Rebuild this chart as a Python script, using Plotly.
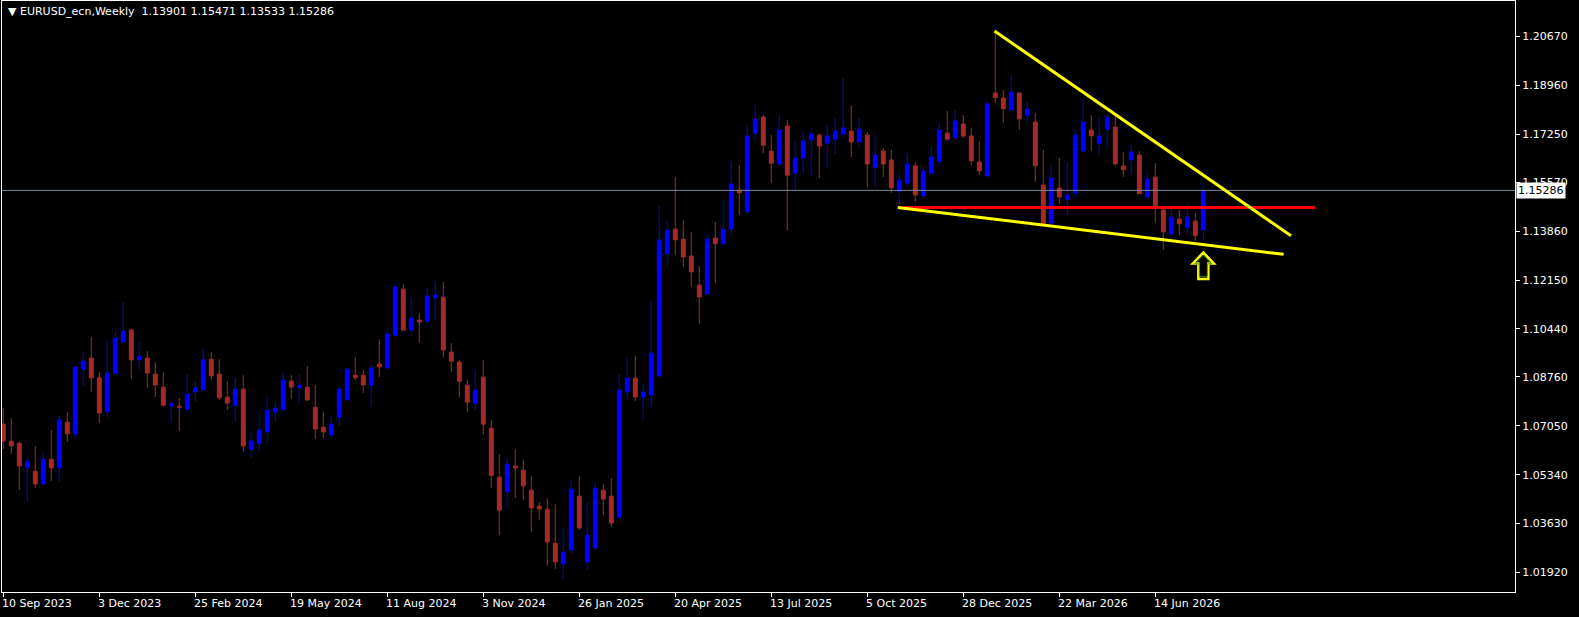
import plotly.graph_objects as go

# ---- weekly OHLC (EURUSD_ecn, Weekly) ----
opens = [1.0711, 1.0651, 1.0644, 1.0558, 1.0546, 1.0502, 1.0588, 1.0558, 1.0718, 1.0677,
         1.0903, 1.0942, 1.0873, 1.0754, 1.0889, 1.0999, 1.1040, 1.0936, 1.0942, 1.0886,
         1.0840, 1.0775, 1.0774, 1.0764, 1.0824, 1.0831, 1.0938, 1.0886, 1.0805, 1.0777,
         1.0833, 1.0623, 1.0644, 1.0684, 1.0754, 1.0761, 1.0861, 1.0838, 1.0840, 1.0770,
         1.0700, 1.0673, 1.0736, 1.0796, 1.0882, 1.0882, 1.0848, 1.0921, 1.0908, 1.1022,
         1.1183, 1.1040, 1.1075, 1.1071, 1.1153, 1.1155, 1.0963, 1.0928, 1.0847, 1.0784,
         1.0875, 1.0697, 1.0525, 1.0474, 1.0564, 1.0550, 1.0480, 1.0424, 1.0413, 1.0294,
         1.0222, 1.0271, 1.0459, 1.0229, 1.0278, 1.0480, 1.0459, 1.0386, 1.0824, 1.0872,
         1.0806, 1.0813, 1.0880, 1.1307, 1.1393, 1.1358, 1.1299, 1.1197, 1.1167, 1.1362,
         1.1342, 1.1394, 1.1530, 1.1454, 1.1729, 1.1785, 1.1666, 1.1621, 1.1754, 1.1589,
         1.1642, 1.1705, 1.1722, 1.1694, 1.1708, 1.1726, 1.1736, 1.1698, 1.1722, 1.1610,
         1.1666, 1.1635, 1.1526, 1.1554, 1.1614, 1.1510, 1.1589, 1.1631, 1.1729, 1.1713,
         1.1761, 1.1719, 1.1628, 1.1580, 1.1869, 1.1852, 1.1811, 1.1869, 1.1790, 1.1768,
         1.1547, 1.1415, 1.1537, 1.1498, 1.1520, 1.1667, 1.1740, 1.1694, 1.1743, 1.1750,
         1.1614, 1.1636, 1.1652, 1.1506, 1.1575, 1.1460, 1.1377, 1.1428, 1.1398, 1.1421,
         1.13901]
highs = [1.0767, 1.0732, 1.0650, 1.0595, 1.0634, 1.0613, 1.0690, 1.0742, 1.0753, 1.0910,
         1.0963, 1.1015, 1.0893, 1.1007, 1.1036, 1.1138, 1.1043, 1.0998, 1.0966, 1.0928,
         1.0893, 1.0790, 1.0802, 1.0886, 1.0860, 1.0977, 1.0963, 1.0938, 1.0861, 1.0872,
         1.0882, 1.0686, 1.0749, 1.0810, 1.0788, 1.0893, 1.0882, 1.0886, 1.0914, 1.0847,
         1.0756, 1.0742, 1.0840, 1.0907, 1.0945, 1.0900, 1.0924, 1.1008, 1.1047, 1.1201,
         1.1201, 1.1155, 1.1099, 1.1187, 1.1211, 1.1208, 1.0994, 1.0935, 1.0868, 1.0903,
         1.0935, 1.0725, 1.0606, 1.0592, 1.0623, 1.0588, 1.0529, 1.0438, 1.0452, 1.0431,
         1.0347, 1.0515, 1.0529, 1.0438, 1.0508, 1.0501, 1.0522, 1.0886, 1.0945, 1.0952,
         1.0854, 1.1145, 1.1474, 1.1425, 1.1575, 1.1425, 1.1383, 1.1264, 1.1376, 1.1418,
         1.1495, 1.1631, 1.1617, 1.1757, 1.1834, 1.1792, 1.1722, 1.1792, 1.1775, 1.1701,
         1.1733, 1.1747, 1.1729, 1.1761, 1.1782, 1.1922, 1.1824, 1.1782, 1.1733, 1.1729,
         1.1677, 1.1670, 1.1593, 1.1659, 1.1628, 1.1615, 1.1684, 1.1764, 1.1806, 1.1810,
         1.1792, 1.1747, 1.1701, 1.1838, 1.2086, 1.1880, 1.1932, 1.1873, 1.1838, 1.1799,
         1.1670, 1.1617, 1.1642, 1.1628, 1.1743, 1.1852, 1.1792, 1.1789, 1.1799, 1.1789,
         1.1663, 1.1687, 1.1666, 1.1593, 1.1624, 1.1467, 1.1463, 1.1460, 1.1484, 1.1449,
         1.15471]
lows = [1.0624, 1.0607, 1.0481, 1.0439, 1.0488, 1.0498, 1.0512, 1.0509, 1.0649, 1.0659,
        1.0845, 1.0824, 1.0715, 1.0736, 1.0887, 1.0999, 1.0869, 1.0903, 1.0838, 1.0806,
        1.0774, 1.0715, 1.0687, 1.0754, 1.0789, 1.0831, 1.0866, 1.0796, 1.0761, 1.0719,
        1.0614, 1.0593, 1.0616, 1.0642, 1.0719, 1.0761, 1.0799, 1.0782, 1.0792, 1.0659,
        1.0663, 1.0659, 1.0705, 1.0796, 1.0866, 1.0820, 1.0771, 1.0876, 1.0904, 1.1015,
        1.1040, 1.1019, 1.0998, 1.1064, 1.1078, 1.0945, 1.0893, 1.0805, 1.0753, 1.0760,
        1.0676, 1.0487, 1.0322, 1.0418, 1.0453, 1.0446, 1.0334, 1.0376, 1.0215, 1.0205,
        1.0166, 1.0257, 1.0341, 1.0201, 1.0271, 1.0393, 1.0351, 1.0379, 1.0799, 1.0792,
        1.0725, 1.0771, 1.0873, 1.1261, 1.1303, 1.1261, 1.1191, 1.1062, 1.1167, 1.1205,
        1.1338, 1.1370, 1.1443, 1.1450, 1.1705, 1.1659, 1.1554, 1.1614, 1.1390, 1.1526,
        1.1589, 1.1579, 1.1572, 1.1607, 1.1656, 1.1715, 1.1645, 1.1680, 1.1540, 1.1540,
        1.1575, 1.1520, 1.1471, 1.1541, 1.1489, 1.1499, 1.1589, 1.1615, 1.1702, 1.1706,
        1.1712, 1.1618, 1.1583, 1.1577, 1.1835, 1.1765, 1.1811, 1.1741, 1.1765, 1.1559,
        1.1412, 1.1412, 1.1482, 1.1440, 1.1503, 1.1660, 1.1667, 1.1653, 1.1675, 1.1615,
        1.1576, 1.1583, 1.1517, 1.1499, 1.1415, 1.1321, 1.1356, 1.1373, 1.1373, 1.1352,
        1.13533]
closes = [1.0652, 1.0635, 1.0565, 1.0581, 1.0502, 1.0588, 1.0558, 1.0726, 1.0677, 1.0910,
          1.0931, 1.0873, 1.0750, 1.0889, 1.1012, 1.1036, 1.0936, 1.0949, 1.0890, 1.0848,
          1.0777, 1.0782, 1.0770, 1.0816, 1.0838, 1.0936, 1.0880, 1.0803, 1.0785, 1.0833,
          1.0635, 1.0651, 1.0690, 1.0760, 1.0767, 1.0865, 1.0841, 1.0847, 1.0796, 1.0694,
          1.0684, 1.0711, 1.0833, 1.0903, 1.0873, 1.0848, 1.0907, 1.0911, 1.1026, 1.1190,
          1.1040, 1.1082, 1.1068, 1.1159, 1.1162, 1.0970, 1.0931, 1.0861, 1.0788, 1.0830,
          1.0711, 1.0532, 1.0410, 1.0571, 1.0558, 1.0495, 1.0418, 1.0414, 1.0299, 1.0229,
          1.0263, 1.0483, 1.0348, 1.0322, 1.0487, 1.0449, 1.0365, 1.0830, 1.0872, 1.0806,
          1.0823, 1.0959, 1.1355, 1.1390, 1.1356, 1.1296, 1.1244, 1.1156, 1.1358, 1.1342,
          1.1393, 1.1551, 1.1520, 1.1719, 1.1778, 1.1687, 1.1624, 1.1740, 1.1582, 1.1642,
          1.1701, 1.1726, 1.1684, 1.1719, 1.1736, 1.1747, 1.1698, 1.1743, 1.1621, 1.1652,
          1.1621, 1.1538, 1.1565, 1.1621, 1.1513, 1.1596, 1.1645, 1.1740, 1.1708, 1.1771,
          1.1719, 1.1632, 1.1597, 1.1831, 1.1853, 1.1815, 1.1873, 1.1779, 1.1813, 1.1615,
          1.1412, 1.1572, 1.1506, 1.1512, 1.1722, 1.1768, 1.1720, 1.1719, 1.1785, 1.1622,
          1.1601, 1.1663, 1.1517, 1.1568, 1.1471, 1.1384, 1.1435, 1.1412, 1.1435, 1.1370,
          1.15286]

# time-scale labels (one every 12 weekly bars)
date_label_bars = [0, 12, 24, 36, 48, 60, 72, 84, 96, 108, 120, 132, 144]
date_labels = ["10 Sep 2023", "3 Dec 2023", "25 Feb 2024", "19 May 2024", "11 Aug 2024",
               "3 Nov 2024", "26 Jan 2025", "20 Apr 2025", "13 Jul 2025", "5 Oct 2025",
               "28 Dec 2025", "22 Mar 2026", "14 Jun 2026"]

# price-scale labels
price_ticks = [1.20670, 1.18960, 1.17250, 1.15570, 1.13860, 1.12150,
               1.10440, 1.08760, 1.07050, 1.05340, 1.03630, 1.01920]

# drawn objects (bar index, price)
upper_trend_x = [123.9, 160.96]
upper_trend_y = [1.2086, 1.1370]
lower_trend_x = [111.8, 160.04]
lower_trend_y = [1.1469, 1.1305]
support_x = [112.4, 163.96]
support_y = [1.1469, 1.1469]
arrow_bar = 150
arrow_price = 1.1266

last_price = 1.15286
title_text = "\u25bc EURUSD_ecn,Weekly\u00a0\u00a01.13901 1.15471 1.13533 1.15286"

FONT = "DejaVu Sans"
BULL = "#0000FF"
BEAR = "#A52A2A"

bars = list(range(len(opens)))
x_range = [-0.1625, 188.96]
y_range = [1.01238, 1.21912]

fig = go.Figure()

fig.add_trace(go.Candlestick(
    x=bars, open=opens, high=highs, low=lows, close=closes,
    increasing=dict(line=dict(color=BULL, width=1), fillcolor=BULL),
    decreasing=dict(line=dict(color=BEAR, width=1), fillcolor=BEAR),
    whiskerwidth=0, hoverinfo="skip", showlegend=False,
))

# current price line
fig.add_trace(go.Scatter(
    x=x_range, y=[last_price, last_price], mode="lines",
    line=dict(color="#778899", width=1), hoverinfo="skip", showlegend=False,
))

# horizontal red level
fig.add_trace(go.Scatter(
    x=support_x, y=support_y, mode="lines",
    line=dict(color="#FF0000", width=3), hoverinfo="skip", showlegend=False,
))
# yellow trend lines
fig.add_trace(go.Scatter(
    x=upper_trend_x, y=upper_trend_y, mode="lines",
    line=dict(color="#FFFF00", width=3), hoverinfo="skip", showlegend=False,
))
fig.add_trace(go.Scatter(
    x=lower_trend_x, y=lower_trend_y, mode="lines",
    line=dict(color="#FFFF00", width=3), hoverinfo="skip", showlegend=False,
))


def arrow_path(scale):
    # hollow "up arrow" glyph outline, in pixels around its anchor (y up)
    pts = [(0, 13), (10.5, 2), (5, 2), (5, -13.5), (-5, -13.5), (-5, 2), (-10.5, 2)]
    return "M " + " L ".join(f"{px * scale:.2f},{py * scale:.2f}" for px, py in pts) + " Z"


shapes = [
    dict(type="path", xref="x", yref="y", xsizemode="pixel", ysizemode="pixel",
         xanchor=arrow_bar, yanchor=arrow_price, path=arrow_path(1.0),
         line=dict(color="#FFFF00", width=2.5), fillcolor="rgba(0,0,0,0)"),
    dict(type="path", xref="x", yref="y", xsizemode="pixel", ysizemode="pixel",
         xanchor=arrow_bar, yanchor=arrow_price, path=arrow_path(0.8),
         line=dict(color="#2E8B22", width=1), fillcolor="rgba(0,0,0,0)"),
]

annotations = [
    dict(text=title_text, xref="paper", yref="paper", x=0, y=1, xanchor="left",
         yanchor="top", xshift=4, yshift=-2, showarrow=False,
         font=dict(family=FONT, size=11, color="white")),
    dict(text=f"{last_price:.5f}", xref="paper", yref="y", x=1, y=last_price,
         xanchor="left", yanchor="middle", xshift=1, showarrow=False,
         bgcolor="white", borderpad=1,
         font=dict(family=FONT, size=11, color="black")),
]
for b, lab in zip(date_label_bars, date_labels):
    annotations.append(dict(
        text=lab, xref="x", yref="paper", x=b, y=0, xanchor="left", yanchor="top",
        xshift=-3, yshift=-3, showarrow=False,
        font=dict(family=FONT, size=11, color="white")))

fig.update_layout(
    width=1579, height=617,
    margin=dict(l=2, r=64, t=1, b=25),
    paper_bgcolor="black", plot_bgcolor="black",
    showlegend=False,
    annotations=annotations,
    shapes=shapes,
    xaxis=dict(
        range=x_range, showgrid=False, zeroline=False,
        showline=True, linecolor="white", linewidth=1, mirror=True,
        tickvals=date_label_bars, showticklabels=False,
        ticks="outside", ticklen=4, tickcolor="white",
        rangeslider=dict(visible=False), fixedrange=True,
    ),
    yaxis=dict(
        range=y_range, side="right", showgrid=False, zeroline=False,
        showline=True, linecolor="white", linewidth=1, mirror=True,
        tickvals=price_ticks, ticktext=[f"{v:.5f}" for v in price_ticks],
        ticks="outside", ticklen=4, tickcolor="white",
        tickfont=dict(family=FONT, size=11, color="white"), fixedrange=True,
    ),
)

fig.write_html(
    "out.html",
    config={"displayModeBar": False, "staticPlot": True},
    post_script="document.body.style.margin='0';document.body.style.background='black';",
)
